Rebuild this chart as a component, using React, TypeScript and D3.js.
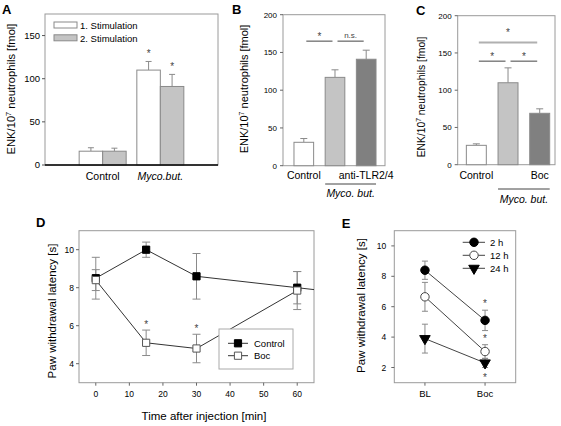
import React from "react";
import * as d3 from "d3";

const FONT = "'Liberation Sans', Arial, Helvetica, sans-serif";

// ---------- Panel A ----------
const aCategories = ["Control", "Myco.but."];
const aSeriesNames = ["1. Stimulation", "2. Stimulation"];
const aStim1 = [16, 110];
const aStim1Err = [4, 10];
const aStim2 = [16, 91];
const aStim2Err = [3.5, 14];
const aSig1 = [false, true];
const aSig2 = [false, true];
const aTicks = [0, 50, 100, 150];

// ---------- Panel B ----------
const bCategories = ["Control", "Myco. but.", "anti-TLR2/4"];
const bLabels = ["Control", "", "anti-TLR2/4"];
const bValues = [31, 117, 141];
const bErrors = [5, 10, 12];
const bTicks = [0, 50, 100, 150, 200];
const bComparisons = [
  { from: 0, to: 1, label: "*", level: 165 },
  { from: 1, to: 2, label: "n.s.", level: 165 },
];

// ---------- Panel C ----------
const cCategories = ["Control", "Myco. but.", "Boc"];
const cLabels = ["Control", "", "Boc"];
const cValues = [26, 110, 69];
const cErrors = [2, 20, 6];
const cTicks = [0, 50, 100, 150, 200];
const cComparisons = [
  { from: 0, to: 2, label: "*", level: 164, top: true },
  { from: 0, to: 1, label: "*", level: 139, top: false },
  { from: 1, to: 2, label: "*", level: 139, top: false },
];
const groupLabel = "Myco. but.";

// ---------- Panel D ----------
const dXTicks = [0, 10, 20, 30, 40, 50, 60];
const dYTicks = [4, 6, 8, 10];
const dControlTimes = [0, 15, 30, 60, 90];
const dControlMeans = [8.5, 10.0, 8.6, 8.0, 7.4];
const dControlErr = [1.1, 0.4, 1.2, 0.85, 0.9];
const dBocTimes = [0, 15, 30, 60];
const dBocMeans = [8.4, 5.1, 4.8, 7.85];
const dBocErr = [0.55, 0.67, 0.75, 1.0];
const dBocSig = [false, true, true, false];
const dSeriesNames = ["Control", "Boc"];

// ---------- Panel E ----------
const eConditions = ["BL", "Boc"];
const eSeriesNames = ["2 h", "12 h", "24 h"];
const e2h = [8.4, 5.1];
const e2hErr = [0.6, 0.67];
const e12h = [6.65, 3.05];
const e12hErr = [0.95, 0.45];
const e24h = [3.9, 2.3];
const e24hErr = [0.95, 0.3];
const eSig = ["above", "above", "below"];
const eYTicks = [2, 4, 6, 8, 10];

const FRAME = "#9a9a9a";
const BAR_STROKE = "#8a8a8a";
const ERR = "#8a8a8a";
const LIGHT = "#c4c4c4";
const DARK = "#808080";

function EnkTitle({ x, y, size }: { x: number; y: number; size: number }) {
  return (
    <text transform={`translate(${x},${y}) rotate(-90)`} textAnchor="middle" fontSize={size} fill="#000">
      ENK/10
      <tspan dy={-size * 0.4} fontSize={size * 0.65}>7</tspan>
      <tspan dy={size * 0.4}> neutrophils [fmol]</tspan>
    </text>
  );
}

function PanelA() {
  const x = d3.scaleLinear().domain([0, 3]).range([45, 218]);
  const y = d3.scaleLinear().domain([0, 175]).range([165, 14]);
  const bw = 23.5;
  const series = [
    { v: aStim1, e: aStim1Err, sig: aSig1, fill: "#fff", off: -bw },
    { v: aStim2, e: aStim2Err, sig: aSig2, fill: LIGHT, off: 0 },
  ];
  return (
    <g>
      <text x={2} y={13.5} fontSize={13} fontWeight="bold">A</text>
      <rect x={45} y={14} width={173} height={151} fill="none" stroke={FRAME} />
      {aTicks.map((t) => (
        <g key={t}>
          <line x1={42} x2={45} y1={y(t)} y2={y(t)} stroke="#555" />
          <text x={40} y={y(t) + 3.3} textAnchor="end" fontSize={9.5}>{t}</text>
        </g>
      ))}
      {series.map((s, si) =>
        aCategories.map((c, i) => {
          const cx = x(i + 1) + s.off;
          const top = y(s.v[i] + s.e[i]);
          return (
            <g key={si + c}>
              <line x1={cx + bw / 2} x2={cx + bw / 2} y1={y(s.v[i])} y2={top} stroke={ERR} />
              <line x1={cx + bw / 2 - 3} x2={cx + bw / 2 + 3} y1={top} y2={top} stroke={ERR} />
              <rect x={cx} y={y(s.v[i])} width={bw} height={y(0) - y(s.v[i])} fill={s.fill} stroke={BAR_STROKE} />
              {s.sig[i] && (
                <text x={cx + bw / 2} y={top - 4} textAnchor="middle" fontSize={10} fill="#444">*</text>
              )}
            </g>
          );
        })
      )}
      <line x1={45} x2={218} y1={165} y2={165} stroke="#000" strokeWidth={1.4} />
      {aCategories.map((c, i) => (
        <text key={c} x={x(i + 1)} y={180} textAnchor="middle" fontSize={10.5} fontStyle={i === 1 ? "italic" : "normal"}>
          {c}
        </text>
      ))}
      {aSeriesNames.map((n, i) => (
        <g key={n}>
          <rect x={54} y={22 + i * 12.8} width={23} height={6} fill={i === 0 ? "#fff" : LIGHT} stroke={BAR_STROKE} />
          <text x={80} y={29 + i * 12.6} fontSize={9.5}>{n}</text>
        </g>
      ))}
      <EnkTitle x={15} y={89} size={11.2} />
    </g>
  );
}

function BarPanel({
  letter, letterX, letterY, left, right, top, bottom, categories, labels, values, errors, ticks, comparisons,
  padOuter, align, titleX, titleY, titleSize, groupLineY, groupTextY,
}: any) {
  const x = d3.scaleBand<string>().domain(categories).range([left, right]).paddingInner(0.37).paddingOuter(padOuter).align(align);
  const y = d3.scaleLinear().domain([0, 200]).range([bottom, top]);
  const bw = x.bandwidth();
  const fills = ["#fff", LIGHT, DARK];
  const cx = (i: number) => (x(categories[i]) as number) + bw / 2;
  return (
    <g>
      <text x={letterX} y={letterY} fontSize={13} fontWeight="bold">{letter}</text>
      <rect x={left} y={top} width={right - left} height={bottom - top} fill="none" stroke={FRAME} />
      {ticks.map((t: number) => (
        <g key={t}>
          <line x1={left - 3} x2={left} y1={y(t)} y2={y(t)} stroke="#666" />
          <text x={left - 6} y={y(t) + 3} textAnchor="end" fontSize={8}>{t}</text>
        </g>
      ))}
      {categories.map((c: string, i: number) => {
        const tp = y(values[i] + errors[i]);
        return (
          <g key={c}>
            <line x1={cx(i)} x2={cx(i)} y1={y(values[i])} y2={tp} stroke={ERR} />
            <line x1={cx(i) - 3.5} x2={cx(i) + 3.5} y1={tp} y2={tp} stroke={ERR} />
            <rect x={x(c)} y={y(values[i])} width={bw} height={bottom - y(values[i])} fill={fills[i]} stroke={BAR_STROKE} />
          </g>
        );
      })}
      {comparisons.map((cmp: any, k: number) => {
        const yy = y(cmp.level);
        const isTop = cmp.top;
        return (
          <g key={k}>
            <line x1={cx(cmp.from) + 2.5} x2={cx(cmp.to) - 2.5} y1={yy} y2={yy} stroke={isTop ? "#b0b0b0" : "#444"} strokeWidth={isTop ? 1.8 : 1} />
            <text x={(cx(cmp.from) + cx(cmp.to)) / 2} y={yy - (isTop ? 6.5 : cmp.label === "*" ? 1 : 3.5)} textAnchor="middle" fontSize={cmp.label === "*" ? 10 : 8} fill="#444">
              {cmp.label}
            </text>
          </g>
        );
      })}
      {labels.map((l: string, i: number) =>
        l ? (
          <text key={i} x={cx(i)} y={179} textAnchor="middle" fontSize={10.5}>{l}</text>
        ) : null
      )}
      <line x1={x(categories[1])} x2={(x(categories[2]) as number) + bw} y1={groupLineY} y2={groupLineY} stroke="#444" />
      <text x={((x(categories[1]) as number) + (x(categories[2]) as number) + bw) / 2} y={groupTextY} textAnchor="middle" fontSize={10.5} fontStyle="italic">
        {groupLabel}
      </text>
      <EnkTitle x={titleX} y={titleY} size={titleSize} />
    </g>
  );
}

function ErrBar({ x, y, lo, hi, w }: any) {
  return (
    <g stroke={ERR}>
      <line x1={x} x2={x} y1={y(lo)} y2={y(hi)} />
      <line x1={x - w} x2={x + w} y1={y(lo)} y2={y(lo)} />
      <line x1={x - w} x2={x + w} y1={y(hi)} y2={y(hi)} />
    </g>
  );
}

function PanelD() {
  const L = 79, R = 314, T = 230.7, B = 382.7;
  const x = d3.scaleLinear().domain([-5, 65]).range([L, R]);
  const y = d3.scaleLinear().domain([3, 11]).range([B, T]);
  const sq = d3.symbol(d3.symbolSquare, 52)();
  const line = d3.line<number>();
  const ctrl = dControlTimes.map((t, i) => [x(t), y(dControlMeans[i])] as [number, number]);
  const boc = dBocTimes.map((t, i) => [x(t), y(dBocMeans[i])] as [number, number]);
  return (
    <g>
      <text x={36} y={226.5} fontSize={13} fontWeight="bold">D</text>
      <defs>
        <clipPath id="clipD">
          <rect x={L} y={T} width={R - L} height={B - T} />
        </clipPath>
      </defs>
      <rect x={L} y={T} width={R - L} height={B - T} fill="none" stroke={FRAME} />
      {dYTicks.map((t) => (
        <g key={t}>
          <line x1={L - 3} x2={L} y1={y(t)} y2={y(t)} stroke="#666" />
          <text x={L - 5} y={y(t) + 3} textAnchor="end" fontSize={8.5}>{t}</text>
        </g>
      ))}
      {dXTicks.map((t) => (
        <g key={t}>
          <line x1={x(t)} x2={x(t)} y1={B} y2={B + 3} stroke="#666" />
          <text x={x(t)} y={397} textAnchor="middle" fontSize={8.5}>{t}</text>
        </g>
      ))}
      <g clipPath="url(#clipD)">
        <path d={line(ctrl as any) as string} fill="none" stroke="#333" />
        <path d={line(boc as any) as string} fill="none" stroke="#333" />
        {dControlTimes.map((t, i) => (
          <ErrBar key={"ce" + i} x={x(t)} y={y} lo={dControlMeans[i] - dControlErr[i]} hi={dControlMeans[i] + dControlErr[i]} w={4} />
        ))}
        {dBocTimes.map((t, i) => (
          <ErrBar key={"be" + i} x={x(t)} y={y} lo={dBocMeans[i] - dBocErr[i]} hi={dBocMeans[i] + dBocErr[i]} w={4} />
        ))}
        {dControlTimes.map((t, i) => (
          <path key={"cm" + i} d={sq as string} transform={`translate(${x(t)},${y(dControlMeans[i])})`} fill="#000" stroke="#000" />
        ))}
        {dBocTimes.map((t, i) => (
          <path key={"bm" + i} d={sq as string} transform={`translate(${x(t)},${y(dBocMeans[i])})`} fill="#fff" stroke="#555" />
        ))}
      </g>
      {dBocTimes.map((t, i) =>
        dBocSig[i] ? (
          <text key={"s" + i} x={x(t)} y={y(dBocMeans[i] + dBocErr[i]) - 2.5} textAnchor="middle" fontSize={10} fill="#444">*</text>
        ) : null
      )}
      <rect x={219} y={329} width={74} height={40} fill="#fff" stroke="#aaa" />
      {dSeriesNames.map((n, i) => {
        const yy = 343.3 + i * 12.4;
        return (
          <g key={n}>
            <line x1={228} x2={248} y1={yy} y2={yy} stroke="#333" />
            <path d={sq as string} transform={`translate(238,${yy})`} fill={i === 0 ? "#000" : "#fff"} stroke={i === 0 ? "#000" : "#555"} />
            <text x={254} y={yy + 3.5} fontSize={9.5}>{n}</text>
          </g>
        );
      })}
      <text transform="translate(56,311) rotate(-90)" textAnchor="middle" fontSize={11.5}>Paw withdrawal latency [s]</text>
      <text x={204} y={420} textAnchor="middle" fontSize={11.5}>Time after injection [min]</text>
    </g>
  );
}

function PanelE() {
  const L = 394.3, R = 515.7, T = 230.7, B = 382.7;
  const x = d3.scalePoint<string>().domain(eConditions).range([L, R]).padding(0.51);
  const y = d3.scaleLinear().domain([1, 11]).range([B, T]);
  const series = [
    { v: e2h, e: e2hErr, sym: d3.symbol(d3.symbolCircle, 56)(), fill: "#000", stroke: "#000", rot: 0 },
    { v: e12h, e: e12hErr, sym: d3.symbol(d3.symbolCircle, 56)(), fill: "#fff", stroke: "#444", rot: 0 },
    { v: e24h, e: e24hErr, sym: d3.symbol(d3.symbolTriangle, 48)(), fill: "#000", stroke: "#000", rot: 180 },
  ];
  const line = d3.line<string>().x((c) => x(c) as number);
  return (
    <g>
      <text x={341.7} y={228} fontSize={13} fontWeight="bold">E</text>
      <rect x={L} y={T} width={R - L} height={B - T} fill="none" stroke={FRAME} />
      {eYTicks.map((t) => (
        <g key={t}>
          <line x1={L - 3} x2={L} y1={y(t)} y2={y(t)} stroke="#666" />
          <text x={L - 8} y={y(t) + 3} textAnchor="end" fontSize={8.5}>{t}</text>
        </g>
      ))}
      {eConditions.map((c) => (
        <g key={c}>
          <line x1={x(c)} x2={x(c)} y1={B} y2={B + 3} stroke="#666" />
          <text x={x(c)} y={397} textAnchor="middle" fontSize={9.5}>{c}</text>
        </g>
      ))}
      {series.map((s, si) => (
        <path key={"l" + si} d={line.y((c, i) => y(s.v[i]))(eConditions) as string} fill="none" stroke="#444" />
      ))}
      {series.map((s, si) =>
        eConditions.map((c, i) => (
          <ErrBar key={"e" + si + c} x={x(c)} y={y} lo={s.v[i] - s.e[i]} hi={s.v[i] + s.e[i]} w={3} />
        ))
      )}
      {series.map((s, si) =>
        eConditions.map((c, i) => (
          <path key={"m" + si + c} d={s.sym as string} transform={`translate(${x(c)},${y(s.v[i])}) rotate(${s.rot})`} fill={s.fill} stroke={s.stroke} />
        ))
      )}
      {series.map((s, si) => {
        const c = eConditions[1];
        const above = eSig[si] === "above";
        const yy = above ? y(s.v[1] + s.e[1]) - 3 : y(s.v[1] - s.e[1]) + 13;
        return (
          <text key={"s" + si} x={x(c)} y={yy} textAnchor="middle" fontSize={10} fill="#444">*</text>
        );
      })}
      {eSeriesNames.map((n, i) => {
        const yy = 242.3 + i * 13;
        const s = series[i];
        return (
          <g key={n}>
            <line x1={462.7} x2={485} y1={yy} y2={yy} stroke="#444" />
            <path d={s.sym as string} transform={`translate(474,${yy}) rotate(${s.rot})`} fill={s.fill} stroke={s.stroke} />
            <text x={490} y={yy + 3.5} fontSize={9.5}>{n}</text>
          </g>
        );
      })}
      <text transform="translate(364.5,305.5) rotate(-90)" textAnchor="middle" fontSize={11.5}>Paw withdrawal latency [s]</text>
    </g>
  );
}

export default function App() {
  return (
    <svg
      width={561}
      height={426}
      viewBox="0 0 561 426"
      style={{ position: "absolute", left: 0, top: 0, background: "#fff", fontFamily: FONT }}
      fontFamily={FONT}
    >
      <rect width={561} height={426} fill="#fff" />
      <PanelA />
      <BarPanel
        letter="B" letterX={232} letterY={14}
        left={283} right={385} top={14.7} bottom={165.7}
        categories={bCategories} labels={bLabels} values={bValues} errors={bErrors} ticks={bTicks}
        comparisons={bComparisons} padOuter={0.32} align={0.55}
        titleX={248} titleY={89} titleSize={11}
        groupLineY={184} groupTextY={197}
      />
      <BarPanel
        letter="C" letterX={416} letterY={15}
        left={457.7} right={555} top={15.7} bottom={164.7}
        categories={cCategories} labels={cLabels} values={cValues} errors={cErrors} ticks={cTicks}
        comparisons={cComparisons} padOuter={0.22} align={0.62}
        titleX={425} titleY={97} titleSize={10.3}
        groupLineY={189} groupTextY={203}
      />
      <PanelD />
      <PanelE />
    </svg>
  );
}
